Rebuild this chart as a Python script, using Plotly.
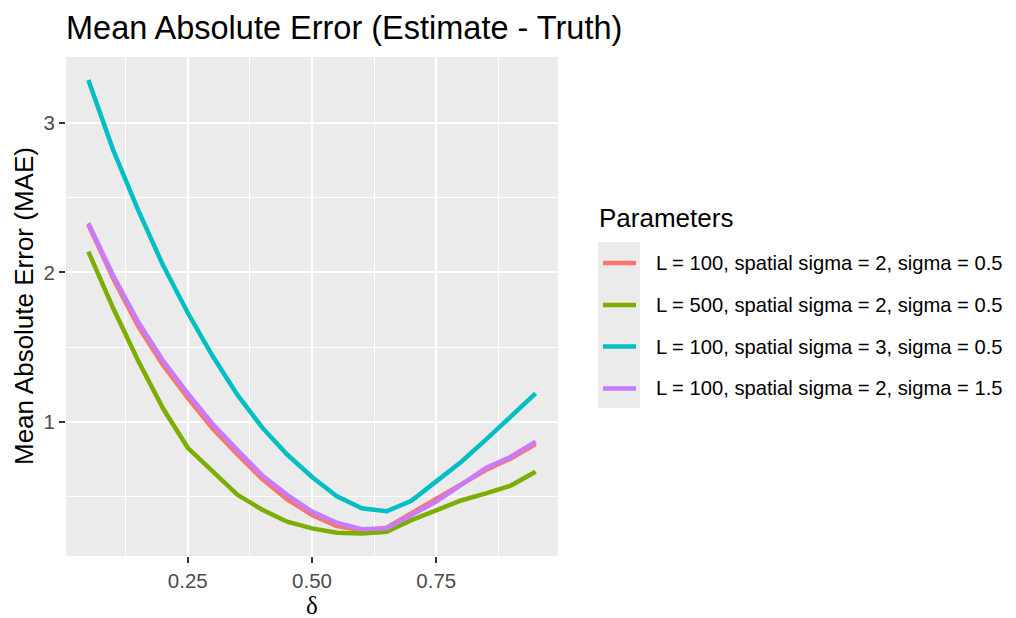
import plotly.graph_objects as go

# ---- data ----
delta = [0.05, 0.10, 0.15, 0.20, 0.25, 0.30, 0.35, 0.40, 0.45, 0.50,
         0.55, 0.60, 0.65, 0.70, 0.75, 0.80, 0.85, 0.90, 0.95]
mae_L100_s2_sig05 = [2.32, 1.96, 1.64, 1.38, 1.16, 0.955, 0.78, 0.615, 0.48, 0.375,
                     0.30, 0.272, 0.29, 0.386, 0.487, 0.576, 0.676, 0.754, 0.85]
mae_L500_s2_sig05 = [2.14, 1.76, 1.41, 1.09, 0.825, 0.665, 0.51, 0.41, 0.33, 0.285,
                     0.256, 0.25, 0.262, 0.34, 0.41, 0.472, 0.52, 0.572, 0.665]
mae_L100_s3_sig05 = [3.29, 2.82, 2.42, 2.05, 1.73, 1.44, 1.18, 0.96, 0.78, 0.63,
                     0.50, 0.42, 0.40, 0.47, 0.60, 0.73, 0.88, 1.03, 1.19]
mae_L100_s2_sig15 = [2.33, 1.98, 1.67, 1.41, 1.19, 0.985, 0.81, 0.64, 0.51, 0.397,
                     0.323, 0.28, 0.285, 0.375, 0.464, 0.576, 0.69, 0.765, 0.866]

series_names = ["L = 100, spatial sigma = 2, sigma = 0.5",
                "L = 500, spatial sigma = 2, sigma = 0.5",
                "L = 100, spatial sigma = 3, sigma = 0.5",
                "L = 100, spatial sigma = 2, sigma = 1.5"]
series_values = [mae_L100_s2_sig05, mae_L500_s2_sig05, mae_L100_s3_sig05, mae_L100_s2_sig15]
colors = ["#F8766D", "#7CAE00", "#00BFC4", "#C77CFF"]

x_ticks = [0.25, 0.50, 0.75]
x_ticklabels = ["0.25", "0.50", "0.75"]
y_ticks = [1, 2, 3]
y_ticklabels = ["1", "2", "3"]

# ---- layout geometry (screen pixels; page body has an 8px offset) ----
OFF = 8
W, H = 1016 - OFF, 618 - OFF
PX0, PX1, PY0, PY1 = 66, 558, 57, 556   # panel edges on screen
L, T = PX0 - OFF, PY0 - OFF
R, B = W - (PX1 - OFF), H - (PY1 - OFF)
PW, PH = PX1 - PX0, PY1 - PY0


def px(xs):
    return (xs - PX0) / PW


def py(ys):
    return (PY1 - ys) / PH


FONT = "Liberation Sans, Arial, sans-serif"

fig = go.Figure()
for name, vals, col in zip(series_names, series_values, colors):
    fig.add_trace(go.Scatter(x=delta, y=vals, mode="lines", name=name,
                             line=dict(color=col, width=4.5), showlegend=False))

fig.update_layout(
    width=W, height=H,
    margin=dict(l=L, r=R, t=T, b=B, pad=0),
    paper_bgcolor="white",
    plot_bgcolor="#EBEBEB",
    font=dict(family=FONT, color="#4D4D4D"),
    showlegend=False,
    xaxis=dict(range=[0.005, 0.995], tickvals=x_ticks, ticktext=x_ticklabels,
               showgrid=True, gridcolor="white", gridwidth=2.3,
               zeroline=False, showline=False,
               ticks="outside", ticklen=6, tickwidth=2, tickcolor="#333333",
               tickfont=dict(size=20.5, color="#4D4D4D", family=FONT),
               minor=dict(tickvals=[0.125, 0.375, 0.625, 0.875], showgrid=True,
                          gridcolor="white", gridwidth=1.2, ticks="")),
    yaxis=dict(range=[0.1, 3.444], tickvals=y_ticks, ticktext=y_ticklabels,
               showgrid=True, gridcolor="white", gridwidth=2.3,
               zeroline=False, showline=False,
               ticks="outside", ticklen=6, tickwidth=2, tickcolor="#333333",
               tickfont=dict(size=20.5, color="#4D4D4D", family=FONT),
               minor=dict(tickvals=[0.5, 1.5, 2.5], showgrid=True,
                          gridcolor="white", gridwidth=1.2, ticks="")),
)

annotations = [
    dict(text="Mean Absolute Error (Estimate - Truth)", x=px(64), y=py(28),
         xanchor="left", yanchor="middle"),
    dict(text="Mean Absolute Error (MAE)", x=px(24), y=py(306), textangle=-90,
         xanchor="center", yanchor="middle"),
    dict(text="δ", x=px(312), y=py(605), xanchor="center", yanchor="middle"),
    dict(text="Parameters", x=px(597), y=py(218), xanchor="left", yanchor="middle"),
]
fonts = [dict(size=32.5, color="black", family=FONT),
         dict(size=26, color="black", family=FONT),
         dict(size=25, color="black", family="Liberation Serif, DejaVu Serif, serif"),
         dict(size=26, color="black", family=FONT)]
for a, f in zip(annotations, fonts):
    a.update(xref="paper", yref="paper", showarrow=False, font=f)

shapes = [dict(type="rect", xref="paper", yref="paper",
               x0=px(598), x1=px(640), y0=py(408), y1=py(242),
               fillcolor="#EBEBEB", line=dict(width=0), layer="below")]

row_y = [263, 305, 346.5, 388.5]
for name, col, ry in zip(series_names, colors, row_y):
    shapes.append(dict(type="line", xref="paper", yref="paper",
                       x0=px(603), x1=px(636), y0=py(ry), y1=py(ry),
                       line=dict(color=col, width=4.5)))
    annotations.append(dict(text=name, x=px(654), y=py(ry), xref="paper", yref="paper",
                            xanchor="left", yanchor="middle", showarrow=False,
                            font=dict(size=20.2, color="black", family=FONT)))

fig.update_layout(annotations=annotations, shapes=shapes)
fig.write_html("out.html")
